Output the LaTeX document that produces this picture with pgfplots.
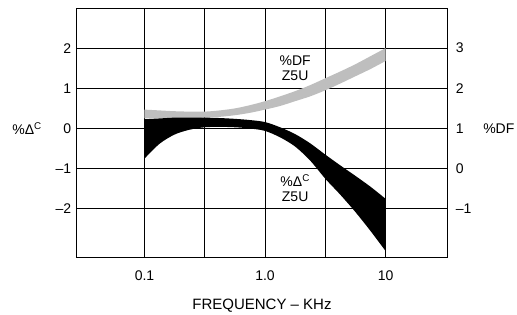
\documentclass[border=0pt]{standalone}
\usepackage{fontspec}
\setmainfont{Liberation Sans}
\usepackage{pgfplots}
\usepgfplotslibrary{fillbetween}
\pgfplotsset{compat=1.18}
\definecolor{bandgray}{RGB}{190,190,190}
\begin{document}
\fontsize{14}{16}\selectfont
\begin{tikzpicture}
\begin{axis}[
  at={(0,0)}, anchor=south west, scale only axis,
  width=370pt, height=249pt,
  xmin=-1.56, xmax=1.51, ymin=-3.2, ymax=3,
  xtick={-1,0,1}, xticklabels={0.1,1.0,10},
  minor xtick={-0.5,0.5},
  ytick={-2,-1,0,1,2}, yticklabels={--2,--1,0,1,2},
  grid=both,
  major grid style={black, line width=0.8pt},
  minor grid style={black, line width=0.8pt},
  tick style={draw=none},
  axis line style={black, line width=1pt},
  xticklabel style={yshift=-9pt},
  yticklabel style={xshift=-1pt},
  xlabel={FREQUENCY -- KHz},
  every axis x label/.style={at={(axis description cs:0.5,-0.195)}, anchor=center, font=\fontsize{15}{17}\selectfont},
  ylabel={\%Δ\textsuperscript{C}},
  every axis y label/.style={at={(axis description cs:-0.135,0.516)}, anchor=center},
]
% %DF band (grey), in left-axis units
\addplot[draw=none, name path=gt, smooth] coordinates {
 (-1,0.47) (-0.875,0.45) (-0.75,0.43) (-0.625,0.42) (-0.5,0.42) (-0.375,0.45)
 (-0.25,0.5) (-0.125,0.58) (0,0.68) (0.125,0.8) (0.25,0.93) (0.375,1.08)
 (0.5,1.25) (0.625,1.42) (0.75,1.6) (0.875,1.8) (1,2.0)};
\addplot[draw=none, name path=gb, smooth] coordinates {
 (-1,0.25) (-0.875,0.25) (-0.75,0.25) (-0.625,0.26) (-0.5,0.27) (-0.375,0.29)
 (-0.25,0.33) (-0.125,0.39) (0,0.47) (0.125,0.56) (0.25,0.68) (0.375,0.8)
 (0.5,0.95) (0.625,1.12) (0.75,1.3) (0.875,1.48) (1,1.68)};
\addplot[bandgray, draw=none] fill between[of=gt and gb];
% %Delta C band (black)
\addplot[draw=none, name path=bt, smooth] coordinates {
 (-1,0.23) (-0.875,0.25) (-0.75,0.27) (-0.625,0.27) (-0.5,0.27) (-0.375,0.26)
 (-0.25,0.24) (-0.125,0.21) (0,0.16) (0.125,0.03) (0.25,-0.14) (0.375,-0.37)
 (0.5,-0.65) (0.625,-0.92) (0.75,-1.18) (0.875,-1.45) (1,-1.75)};
\addplot[draw=none, name path=bb, smooth] coordinates {
 (-1,-0.75) (-0.875,-0.38) (-0.75,-0.15) (-0.625,-0.03) (-0.5,0.03) (-0.375,0.04)
 (-0.25,0.03) (-0.125,0.0) (0,-0.06) (0.125,-0.22) (0.25,-0.45) (0.375,-0.8)
 (0.5,-1.25) (0.625,-1.65) (0.75,-2.08) (0.875,-2.55) (1,-3.05)};
\addplot[black, draw=none] fill between[of=bt and bb];
\node[align=center, font=\fontsize{14}{15}\selectfont] at (axis cs:0.25,1.51) {\%DF\\Z5U};
\node[align=center, font=\fontsize{14}{15}\selectfont] at (axis cs:0.25,-1.48) {\%Δ\textsuperscript{C}\\Z5U};
\end{axis}
\begin{axis}[
  at={(0,0)}, anchor=south west, scale only axis,
  width=370pt, height=249pt,
  xmin=-1.56, xmax=1.51, ymin=-3.2, ymax=3,
  hide x axis, axis y line*=right,
  axis line style={draw=none},
  ytick={-2,-1,0,1,2}, yticklabels={--1,0,1,2,3},
  tick style={draw=none},
  yticklabel style={xshift=4pt},
  ylabel={\%DF},
  every axis y label/.style={at={(axis description cs:1.14,0.516)}, anchor=center},
]
\addplot[draw=none] coordinates {(0,0)};
\end{axis}
\pgfresetboundingbox
\path[use as bounding box] (-77pt,-57pt) rectangle (440pt,257pt);
\end{tikzpicture}
\end{document}
